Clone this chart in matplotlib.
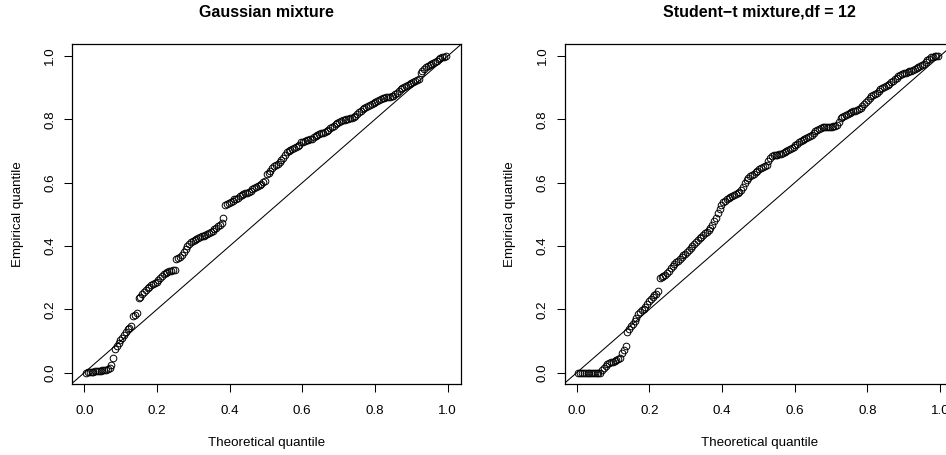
import numpy as np
import matplotlib
matplotlib.use('Agg')
import matplotlib.pyplot as plt

plt.rcParams['font.family'] = ['Liberation Sans', 'DejaVu Sans']

# titles and labels
titles = ['Gaussian mixture', 'Student\u2212t mixture,df = 12']
x_label = 'Theoretical quantile'
y_label = 'Empirical quantile'
ticks = [0.0, 0.2, 0.4, 0.6, 0.8, 1.0]
tick_labels = ['0.0', '0.2', '0.4', '0.6', '0.8', '1.0']

# 200 points per panel, theoretical quantile evenly spaced
n_pts = 200
theo_q = np.arange(1, n_pts + 1) / (n_pts + 1)

# empirical quantile
gauss_q = [
    0.000, 0.001, 0.002, 0.002, 0.003, 0.004, 0.005, 0.005, 0.006, 0.007,
    0.008, 0.010, 0.012, 0.014, 0.024, 0.045, 0.075, 0.085, 0.095, 0.104,
    0.110, 0.120, 0.128, 0.138, 0.142, 0.146, 0.178, 0.182, 0.187, 0.235,
    0.240, 0.248, 0.255, 0.262, 0.268, 0.272, 0.276, 0.280, 0.284, 0.288,
    0.294, 0.300, 0.306, 0.312, 0.316, 0.319, 0.321, 0.322, 0.323, 0.324,
    0.358, 0.361, 0.364, 0.372, 0.380, 0.390, 0.400, 0.407, 0.412, 0.416,
    0.419, 0.422, 0.425, 0.428, 0.431, 0.433, 0.435, 0.438, 0.441, 0.445,
    0.449, 0.453, 0.457, 0.462, 0.468, 0.474, 0.489, 0.529, 0.532, 0.536,
    0.539, 0.543, 0.547, 0.550, 0.553, 0.557, 0.560, 0.563, 0.566, 0.568,
    0.571, 0.575, 0.579, 0.582, 0.585, 0.589, 0.593, 0.597, 0.602, 0.605,
    0.628, 0.632, 0.637, 0.645, 0.652, 0.656, 0.660, 0.664, 0.671, 0.678,
    0.688, 0.697, 0.700, 0.703, 0.707, 0.711, 0.713, 0.715, 0.720, 0.727,
    0.730, 0.733, 0.735, 0.736, 0.737, 0.738, 0.744, 0.749, 0.752, 0.754,
    0.756, 0.758, 0.761, 0.764, 0.768, 0.772, 0.775, 0.779, 0.784, 0.788,
    0.792, 0.795, 0.797, 0.799, 0.800, 0.802, 0.804, 0.805, 0.808, 0.812,
    0.816, 0.822, 0.828, 0.832, 0.836, 0.840, 0.843, 0.846, 0.849, 0.852,
    0.856, 0.859, 0.862, 0.865, 0.867, 0.869, 0.871, 0.872, 0.872, 0.873,
    0.875, 0.879, 0.884, 0.890, 0.895, 0.898, 0.902, 0.905, 0.908, 0.911,
    0.914, 0.917, 0.920, 0.923, 0.927, 0.945, 0.953, 0.960, 0.964, 0.968,
    0.971, 0.974, 0.977, 0.980, 0.985, 0.990, 0.994, 0.996, 0.998, 1.000,
]

# empirical quantile
student_q = [
    0.000, 0.000, 0.000, 0.000, 0.000, 0.000, 0.000, 0.000, 0.000, 0.000,
    0.000, 0.000, 0.000, 0.008, 0.015, 0.022, 0.028, 0.031, 0.033, 0.035,
    0.037, 0.039, 0.042, 0.048, 0.063, 0.072, 0.084, 0.130, 0.138, 0.146,
    0.153, 0.162, 0.174, 0.185, 0.193, 0.197, 0.200, 0.207, 0.217, 0.226,
    0.232, 0.238, 0.244, 0.250, 0.259, 0.298, 0.302, 0.306, 0.310, 0.316,
    0.322, 0.330, 0.337, 0.343, 0.349, 0.354, 0.360, 0.366, 0.371, 0.376,
    0.381, 0.387, 0.393, 0.400, 0.406, 0.412, 0.418, 0.424, 0.430, 0.435,
    0.440, 0.444, 0.450, 0.458, 0.465, 0.478, 0.490, 0.503, 0.518, 0.531,
    0.538, 0.543, 0.547, 0.551, 0.554, 0.557, 0.560, 0.564, 0.568, 0.572,
    0.578, 0.588, 0.598, 0.608, 0.615, 0.620, 0.625, 0.629, 0.633, 0.637,
    0.642, 0.646, 0.649, 0.652, 0.656, 0.668, 0.678, 0.683, 0.686, 0.688,
    0.689, 0.690, 0.692, 0.694, 0.697, 0.700, 0.702, 0.705, 0.709, 0.713,
    0.718, 0.723, 0.728, 0.732, 0.735, 0.738, 0.741, 0.744, 0.747, 0.750,
    0.756, 0.764, 0.768, 0.771, 0.773, 0.775, 0.776, 0.776, 0.776, 0.777,
    0.777, 0.778, 0.779, 0.782, 0.792, 0.805, 0.809, 0.812, 0.815, 0.817,
    0.820, 0.823, 0.826, 0.828, 0.831, 0.834, 0.837, 0.841, 0.848, 0.856,
    0.862, 0.868, 0.873, 0.877, 0.880, 0.884, 0.890, 0.895, 0.899, 0.903,
    0.905, 0.908, 0.912, 0.917, 0.921, 0.926, 0.932, 0.937, 0.941, 0.944,
    0.946, 0.948, 0.950, 0.952, 0.954, 0.957, 0.960, 0.963, 0.966, 0.969,
    0.972, 0.976, 0.981, 0.987, 0.992, 0.996, 0.998, 0.999, 1.000, 1.000,
]

W, H = 946, 455
fig = plt.figure(figsize=(W / 100, H / 100), dpi=100)

# pixel boxes of the two plot regions (right one runs past the edge, as in the original)
boxes = [(72.3, 44.0, 388.8, 340.1), (564.7, 44.0, 388.8, 340.1)]
panels = [gauss_q, student_q]

for (bx, by, bw, bh), yq, title in zip(boxes, panels, titles):
    ax = fig.add_axes([bx / W, 1 - (by + bh) / H, bw / W, bh / H])
    ax.plot(theo_q, yq, linestyle='none', marker='o', markersize=4.8,
            markerfacecolor='none', markeredgecolor='black', markeredgewidth=0.7)
    ax.axline((0, 0), slope=1, color='black', linewidth=0.75)
    ax.set_xlim(-0.033, 1.037)
    ax.set_ylim(-0.036, 1.038)
    ax.set_xticks(ticks)
    ax.set_xticklabels(tick_labels)
    ax.set_yticks(ticks)
    ax.set_yticklabels(tick_labels, rotation=90, va='center')
    ax.tick_params(direction='out', length=5.5, width=0.75, labelsize=9.6, colors='black')
    ax.tick_params(axis='x', pad=9.6)
    ax.tick_params(axis='y', pad=6.0)
    for s in ax.spines.values():
        s.set_linewidth(0.9)
        s.set_color('black')

    cx = bx + bw / 2
    fig.text(cx / W, 1 - 12.3 / H, title, ha='center', va='center',
             fontsize=11.5, fontweight='bold')
    fig.text(cx / W, 1 - 443 / H, x_label, ha='center', va='center', fontsize=9.6)
    fig.text((bx - 54.8) / W, 1 - (by + bh / 2) / H, y_label, ha='center', va='center',
             rotation=90, fontsize=9.6)

fig.savefig('out.png', dpi=100)
